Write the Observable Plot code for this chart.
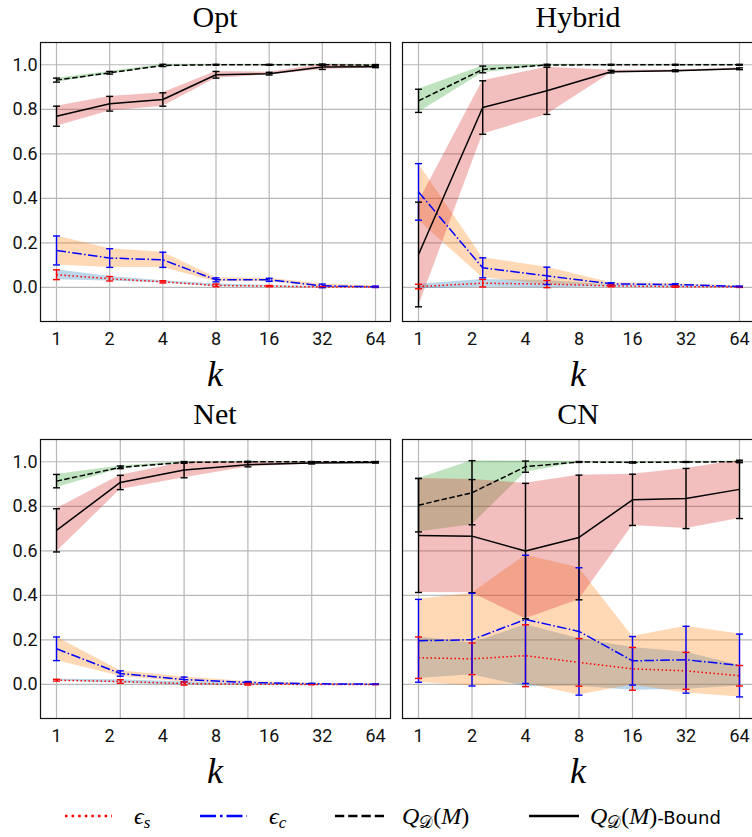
<!DOCTYPE html>
<html><head><meta charset="utf-8">
<script src="https://cdn.jsdelivr.net/npm/d3@7"></script>
<script src="https://cdn.jsdelivr.net/npm/@observablehq/plot@0.6"></script>
<style>
html,body{margin:0;padding:0;background:#fff;overflow:hidden;}
#root{position:relative;width:752px;height:837px;overflow:hidden;background:#fff;}
#root svg{position:absolute;}
</style></head><body><div id="root"></div>
<script>
// ---- labels ----
const kLabels = [1, 2, 4, 8, 16, 32, 64];
const yTicks = [0, 0.2, 0.4, 0.6, 0.8, 1.0];
const panelNames = ["Opt", "Hybrid", "Net", "CN"];

// ---- Opt (7 points) ----
const optQ        = [0.931, 0.964, 0.997, 1.000, 1.000, 1.000, 0.998];
const optQErr     = [0.009, 0.006, 0.005, 0.002, 0.002, 0.003, 0.003];
const optBound    = [0.769, 0.825, 0.844, 0.955, 0.960, 0.990, 0.991];
const optBoundErr = [0.045, 0.033, 0.030, 0.015, 0.006, 0.011, 0.004];
const optEc       = [0.166, 0.132, 0.124, 0.034, 0.034, 0.007, 0.003];
const optEcErr    = [0.065, 0.042, 0.034, 0.009, 0.007, 0.008, 0.003];
const optEs       = [0.057, 0.039, 0.025, 0.009, 0.006, 0.002, 0.002];
const optEsErr    = [0.022, 0.010, 0.005, 0.006, 0.003, 0.002, 0.002];

// ---- Hybrid (6 points) ----
const hybQ        = [0.838, 0.979, 0.999, 1.000, 1.000, 1.000];
const hybQErr     = [0.052, 0.015, 0.003, 0.002, 0.002, 0.002];
const hybBound    = [0.148, 0.808, 0.883, 0.969, 0.973, 0.982];
const hybBoundErr = [0.235, 0.120, 0.106, 0.006, 0.004, 0.004];
const hybEc       = [0.429, 0.088, 0.052, 0.016, 0.013, 0.004];
const hybEcErr    = [0.127, 0.045, 0.039, 0.005, 0.004, 0.002];
const hybEs       = [0.004, 0.019, 0.015, 0.007, 0.004, 0.002];
const hybEsErr    = [0.010, 0.017, 0.016, 0.004, 0.003, 0.002];

// ---- Net (6 points) ----
const netQ        = [0.913, 0.975, 0.997, 1.000, 1.000, 1.000];
const netQErr     = [0.030, 0.006, 0.004, 0.002, 0.001, 0.001];
const netBound    = [0.692, 0.907, 0.963, 0.987, 0.994, 0.997];
const netBoundErr = [0.097, 0.032, 0.035, 0.010, 0.004, 0.003];
const netEc       = [0.160, 0.049, 0.022, 0.009, 0.003, 0.001];
const netEcErr    = [0.053, 0.012, 0.011, 0.004, 0.002, 0.001];
const netEs       = [0.019, 0.013, 0.004, 0.001, 0.000, 0.000];
const netEsErr    = [0.004, 0.008, 0.007, 0.004, 0.001, 0.001];

// ---- CN (7 points) ----
const cnQ         = [0.805, 0.861, 0.978, 0.999, 0.997, 0.999, 1.000];
const cnQErr      = [0.120, 0.144, 0.025, 0.002, 0.003, 0.002, 0.004];
const cnBound     = [0.669, 0.666, 0.599, 0.660, 0.829, 0.835, 0.876];
const cnBoundErr  = [0.256, 0.254, 0.304, 0.280, 0.115, 0.135, 0.131];
const cnEc        = [0.196, 0.201, 0.292, 0.238, 0.106, 0.111, 0.085];
const cnEcErr     = [0.186, 0.208, 0.288, 0.286, 0.109, 0.150, 0.141];
const cnEs        = [0.120, 0.115, 0.129, 0.099, 0.070, 0.061, 0.039];
const cnEsErr     = [0.093, 0.071, 0.139, 0.107, 0.096, 0.083, 0.046];

const panels = [
  {name: panelNames[0], q: optQ, qErr: optQErr, bound: optBound, boundErr: optBoundErr, ec: optEc, ecErr: optEcErr, es: optEs, esErr: optEsErr, left: 0, top: 0, frameW: 350, yAxis: true},
  {name: panelNames[1], q: hybQ, qErr: hybQErr, bound: hybBound, boundErr: hybBoundErr, ec: hybEc, ecErr: hybEcErr, es: hybEs, esErr: hybEsErr, left: 362, top: 0, frameW: 352, yAxis: false},
  {name: panelNames[2], q: netQ, qErr: netQErr, bound: netBound, boundErr: netBoundErr, ec: netEc, ecErr: netEcErr, es: netEs, esErr: netEsErr, left: 0, top: 397, frameW: 350, yAxis: true},
  {name: panelNames[3], q: cnQ, qErr: cnQErr, bound: cnBound, boundErr: cnBoundErr, ec: cnEc, ecErr: cnEcErr, es: cnEs, esErr: cnEsErr, left: 362, top: 397, frameW: 352, yAxis: false},
];

const capSymbol = {
  draw(ctx, size) {
    const w = Math.sqrt(size / Math.PI);
    ctx.moveTo(-w, 0);
    ctx.lineTo(w, 0);
  }
};

const root = document.getElementById("root");
const ML = 40, MR = 4, MT = 42, MB = 70, FH = 279;

function makePanel(p) {
  const n = p.q.length;
  const idx = d3.range(n);
  const W = ML + p.frameW + MR;
  const series = [
    {mean: p.es, err: p.esErr, band: "#1f77b4", line: "red", dash: "1.5,2.5", bar: "red"},
    {mean: p.ec, err: p.ecErr, band: "#ff7f0e", line: "blue", dash: "9.6,2.4,1.5,2.4", bar: "blue"},
    {mean: p.q, err: p.qErr, band: "#2ca02c", line: "black", dash: "5.5,2.4", bar: "black"},
    {mean: p.bound, err: p.boundErr, band: "#d62728", line: "black", dash: "none", bar: "black"},
  ];
  const rows = s => idx.map(i => ({x: i, y: s.mean[i], lo: s.mean[i] - s.err[i], hi: s.mean[i] + s.err[i]}));
  const labelPos = kLabels.map((_, j) => j * (n - 1) / (kLabels.length - 1));
  const marks = [
    Plot.gridX(idx, {stroke: "#b8b8b8", strokeOpacity: 1, strokeWidth: 1.2}),
    Plot.gridY(yTicks, {stroke: "#b8b8b8", strokeOpacity: 1, strokeWidth: 1.2}),
    ...series.map(s => Plot.areaY(rows(s), {x: "x", y1: "lo", y2: "hi", fill: s.band, fillOpacity: 0.3})),
    ...series.map(s => Plot.line(rows(s), {x: "x", y: "y", stroke: s.line, strokeWidth: 1.5, strokeDasharray: s.dash, strokeLinecap: "butt"})),
    ...series.map(s => Plot.ruleX(rows(s), {x: "x", y1: "lo", y2: "hi", stroke: s.bar, strokeWidth: 1.4})),
    ...series.map(s => Plot.dot(rows(s), {x: "x", y: "lo", symbol: capSymbol, r: 3.5, stroke: s.bar, fill: "none", strokeWidth: 1.4})),
    ...series.map(s => Plot.dot(rows(s), {x: "x", y: "hi", symbol: capSymbol, r: 3.5, stroke: s.bar, fill: "none", strokeWidth: 1.4})),
    Plot.axisX(labelPos, {tickFormat: d => kLabels[labelPos.indexOf(d)], tickSize: 0, tickPadding: 11, fontSize: 18, label: null}),
    p.yAxis ? Plot.axisY(yTicks, {tickFormat: d3.format(".1f"), tickSize: 0, tickPadding: 3, fontSize: 18, label: null}) : Plot.axisY([], {label: null}),
    Plot.frame({stroke: "#111", strokeWidth: 1.2}),
  ];
  const svg = Plot.plot({
    width: W,
    height: MT + FH + MB,
    marginLeft: ML, marginRight: MR, marginTop: MT, marginBottom: MB,
    style: {fontFamily: "Roboto, 'Open Sans', sans-serif", color: "#111", background: "transparent", overflow: "visible"},
    x: {domain: [0, n - 1], range: [ML + 16, W - MR - 15]},
    y: {domain: [-0.153, 1.1]},
    marks
  });
  svg.style.left = p.left + "px";
  svg.style.top = p.top + "px";
  const cx = ML + p.frameW / 2;
  const s = d3.select(svg);
  s.append("text").attr("x", cx).attr("y", 27).attr("text-anchor", "middle")
    .attr("font-family", "'Liberation Serif', serif").attr("font-size", 30).attr("fill", "#000").text(p.name);
  s.append("text").attr("x", cx).attr("y", 386).attr("text-anchor", "middle")
    .attr("font-family", "'Liberation Serif', serif").attr("font-style", "italic").attr("font-size", 36).attr("fill", "#000").text("k");
  root.appendChild(svg);
}
panels.forEach(makePanel);

// ---- legend ----
const leg = d3.select(root).append("svg").attr("width", 752).attr("height", 42)
  .style("left", "0px").style("top", "795px");
const ly = 21, lb = 29;
const samples = [
  {x1: 65, x2: 112, stroke: "red", dash: "2.5,4.1"},
  {x1: 200, x2: 247, stroke: "blue", dash: "16,4,2.5,4"},
  {x1: 335, x2: 385, stroke: "black", dash: "9.25,4"},
  {x1: 529, x2: 579, stroke: "black", dash: "none"},
];
samples.forEach(d => leg.append("line").attr("x1", d.x1).attr("x2", d.x2).attr("y1", ly).attr("y2", ly)
  .attr("stroke", d.stroke).attr("stroke-width", 2.5).attr("stroke-dasharray", d.dash));
function eps(x, sub) {
  const t = leg.append("text").attr("x", x).attr("y", lb).attr("font-family", "'Liberation Serif','DejaVu Serif', serif").attr("fill", "#000");
  t.append("tspan").attr("font-size", 24).attr("font-style", "italic").text("ϵ");
  t.append("tspan").attr("font-size", 17).attr("font-style", "italic").attr("dy", 4).text(sub);
}
eps(134, "s");
eps(269, "c");
function qd(x, extra) {
  const t = leg.append("text").attr("x", x).attr("y", lb).attr("font-family", "'Liberation Serif','DejaVu Serif', serif").attr("fill", "#000");
  t.append("tspan").attr("font-size", 24).attr("font-style", "italic").text("Q");
  t.append("tspan").attr("font-size", 17).attr("dy", 4).text("𝒟");
  t.append("tspan").attr("font-size", 24).attr("dy", -4).text("(");
  t.append("tspan").attr("font-size", 24).attr("font-style", "italic").text("M");
  t.append("tspan").attr("font-size", 24).text(")");
  if (extra) t.append("tspan").attr("font-size", 18).attr("font-family", "'DejaVu Sans', sans-serif").text(extra);
}
qd(402, null);
qd(590, "-Bound");
</script>
</body></html>
